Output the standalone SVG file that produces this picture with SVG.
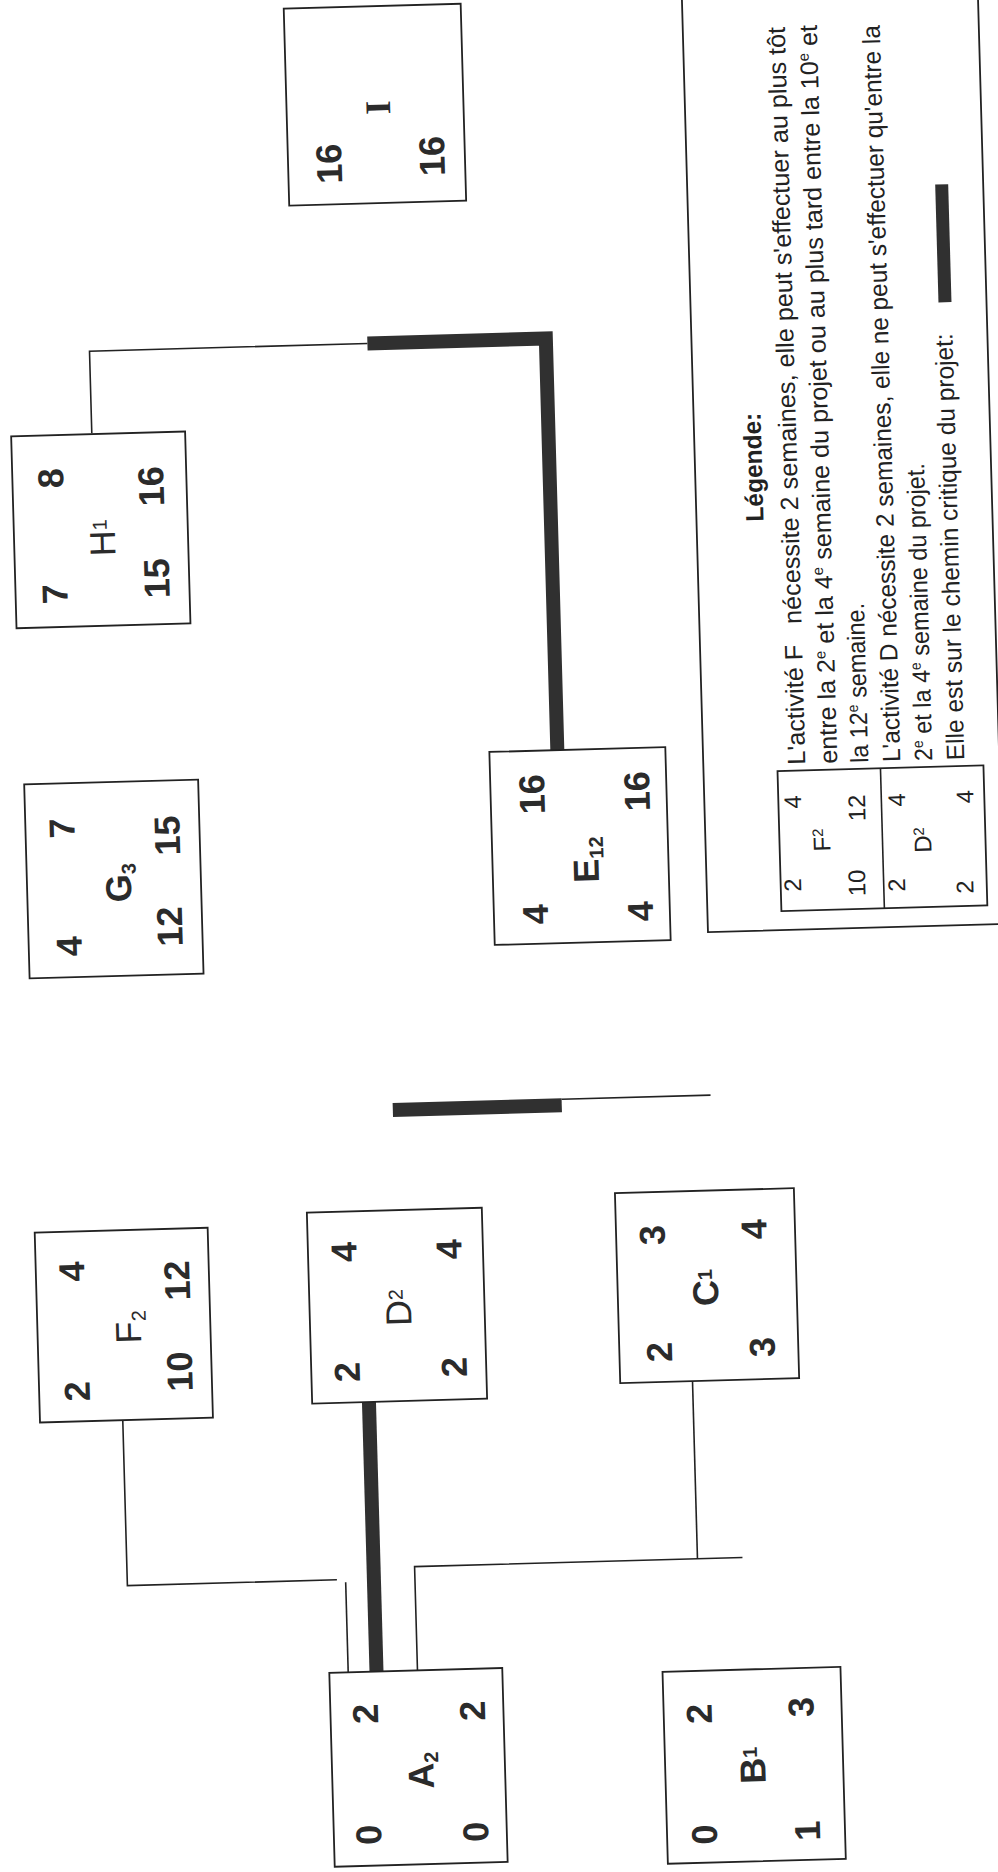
<svg xmlns="http://www.w3.org/2000/svg" width="998" height="1872" viewBox="0 0 998 1872">
<style>
.bx{fill:none;stroke:#222;stroke-width:1.8}
.th{fill:none;stroke:#303030;stroke-width:14;stroke-linejoin:miter;stroke-linecap:butt}
.tn{fill:none;stroke:#222;stroke-width:1.6}
.n{font-family:"Liberation Sans",Arial,sans-serif;font-weight:bold;font-size:36px;fill:#2b2b2b;text-anchor:middle}
.nl{font-weight:normal}
.s{font-size:20px}
.lg{font-family:"Liberation Sans",Arial,sans-serif;font-size:25px;fill:#222}
.lgb{font-weight:bold}
.tb{font-family:"Liberation Sans",Arial,sans-serif;font-size:24px;fill:#222;text-anchor:middle}
.e{font-size:15px}
.ser{font-family:"Liberation Serif","Times New Roman",serif}
</style>
<rect width="998" height="1872" fill="#ffffff"/>
<g transform="rotate(-1.6 499 936)">
 <g id="connectors">
  <path class="tn" d="M106,422 V340 H384"/>
  <path class="th" d="M384,340 H562.5 V752"/>
  <path class="th" d="M388,1107 H557"/>
  <path class="tn" d="M557,1101 H706"/>
  <path class="tn" d="M109.4,1409.5 V1575 H319"/>
  <path class="tn" d="M327.7,1577.7 V1667.8"/>
  <path class="th" d="M356,1398.2 V1667.8"/>
  <path class="tn" d="M397,1667.8 V1564 H725"/>
  <path class="tn" d="M680,1386.3 V1564"/>
 </g>
 <g id="node-I" transform="translate(398.2,101.5)">
  <rect class="bx" x="-88.5" y="-98.5" width="177" height="197"/>
  <g transform="rotate(-90)">
   <text class="n" x="-58" y="-35">16</text>
   <text class="n" x="-53" y="68">16</text>
   <text class="n ser" x="-3" y="15">I</text>
  </g>
 </g>
 <g id="node-H" transform="translate(112.3,518.9)">
  <rect class="bx" x="-87" y="-96" width="174" height="192"/>
  <g transform="rotate(-90)">
   <text class="n" x="-63" y="-35">7</text>
   <text class="n" x="53" y="-36">8</text>
   <text class="n" x="-50" y="67">15</text>
   <text class="n" x="42" y="64">16</text>
   <text class="n nl" x="-8" y="14">H<tspan class="s" dy="-8">1</tspan></text>
  </g>
 </g>
 <g id="node-G" transform="translate(115.6,868.3)">
  <rect class="bx" x="-87" y="-97" width="174" height="194"/>
  <g transform="rotate(-90)">
   <text class="n" x="-66" y="-34">4</text>
   <text class="n" x="52" y="-38">7</text>
   <text class="n" x="-49" y="67">12</text>
   <text class="n" x="42" y="67">15</text>
   <text class="n" x="-4" y="17">G<tspan class="s" dy="5">3</tspan></text>
  </g>
 </g>
 <g id="node-E" transform="translate(582.5,848.3)">
  <rect class="bx" x="-88" y="-96.5" width="176" height="193"/>
  <g transform="rotate(-90)">
   <text class="n" x="-67" y="-34">4</text>
   <text class="n" x="53" y="-34">16</text>
   <text class="n" x="-67" y="71">4</text>
   <text class="n" x="53" y="71">16</text>
   <text class="n" x="-14" y="18">E<tspan class="s" dy="5">12</tspan></text>
  </g>
 </g>
 <g id="node-F" transform="translate(113.1,1314.5)">
  <rect class="bx" x="-86.5" y="-95" width="173" height="190"/>
  <g transform="rotate(-90)">
   <text class="n" x="-65" y="-36">2</text>
   <text class="n" x="55" y="-38">4</text>
   <text class="n" x="-48" y="67">10</text>
   <text class="n" x="43" y="67">12</text>
   <text class="n nl" x="-2" y="17">F<tspan class="s" dy="5">2</tspan></text>
  </g>
 </g>
 <g id="node-D" transform="translate(386.7,1302.7)">
  <rect class="bx" x="-87.5" y="-95.5" width="175" height="191"/>
  <g transform="rotate(-90)">
   <text class="n" x="-65" y="-39">2</text>
   <text class="n" x="55" y="-39">4</text>
   <text class="n" x="-63" y="68">2</text>
   <text class="n" x="55" y="66">4</text>
   <text class="n nl" x="-2" y="14">D<tspan class="s" dy="-8">2</tspan></text>
  </g>
 </g>
 <g id="node-C" transform="translate(697.2,1291.3)">
  <rect class="bx" x="-89.5" y="-95" width="179" height="190"/>
  <g transform="rotate(-90)">
   <text class="n" x="-65" y="-37">2</text>
   <text class="n" x="52" y="-41">3</text>
   <text class="n" x="-63" y="66">3</text>
   <text class="n" x="55" y="61">4</text>
   <text class="n" x="-2" y="11">C<tspan class="s" dy="-6">1</tspan></text>
  </g>
 </g>
 <g id="node-A" transform="translate(395.3,1764.8)">
  <rect class="bx" x="-86.5" y="-97" width="173" height="194"/>
  <g transform="rotate(-90)">
   <text class="n" x="-66" y="-39">0</text>
   <text class="n" x="55" y="-39">2</text>
   <text class="n" x="-66" y="68">0</text>
   <text class="n" x="55" y="68">2</text>
   <text class="n" x="-3" y="15">A<tspan class="s" dy="5">2</tspan></text>
  </g>
 </g>
 <g id="node-B" transform="translate(730.9,1772.1)">
  <rect class="bx" x="-89" y="-96" width="178" height="192"/>
  <g transform="rotate(-90)">
   <text class="n" x="-68" y="-39">0</text>
   <text class="n" x="53" y="-41">2</text>
   <text class="n" x="-67" y="64">1</text>
   <text class="n" x="57" y="61">3</text>
   <text class="n" x="0" y="11">B<tspan class="s" dy="-8">1</tspan></text>
  </g>
 </g>
 <g id="legend">
  <rect class="bx" x="708" y="-40" width="296" height="978"/>
  <text class="lg lgb" transform="translate(775,529) rotate(-90)" textLength="109" lengthAdjust="spacingAndGlyphs">Légende:</text>
  <text class="lg" transform="translate(810,773) rotate(-90)" textLength="738" lengthAdjust="spacingAndGlyphs">L'activité F&#160;&#160;&#160;nécessite 2 semaines, elle peut s'effectuer au plus tôt</text>
  <text class="lg" transform="translate(842,773) rotate(-90)" textLength="739" lengthAdjust="spacingAndGlyphs">entre la 2<tspan class="e" dy="-9">e</tspan><tspan dy="9"> et la 4</tspan><tspan class="e" dy="-9">e</tspan><tspan dy="9"> semaine du projet ou au plus tard entre la 10</tspan><tspan class="e" dy="-9">e</tspan><tspan dy="9"> et</tspan></text>
  <text class="lg" transform="translate(873,773) rotate(-90)" textLength="160" lengthAdjust="spacingAndGlyphs">la 12<tspan class="e" dy="-9">e</tspan><tspan dy="9"> semaine.</tspan></text>
  <text class="lg" transform="translate(905,773) rotate(-90)" textLength="737" lengthAdjust="spacingAndGlyphs">L'activité D nécessite 2 semaines, elle ne peut s'effectuer qu'entre la</text>
  <text class="lg" transform="translate(937,773) rotate(-90)" textLength="298" lengthAdjust="spacingAndGlyphs">2<tspan class="e" dy="-9">e</tspan><tspan dy="9"> et la 4</tspan><tspan class="e" dy="-9">e</tspan><tspan dy="9"> semaine du projet.</tspan></text>
  <text class="lg" transform="translate(969,773) rotate(-90)" textLength="427" lengthAdjust="spacingAndGlyphs">Elle est sur le chemin critique du projet:</text>
  <rect x="956" y="197" width="13" height="118" fill="#303030"/>
  <rect class="bx" x="782" y="779" width="206" height="140"/>
  <line class="tn" x1="885" y1="779" x2="885" y2="919"/>
  <text class="tb" transform="translate(794.4,893.2) rotate(-90)" y="8">2</text>
  <text class="tb" transform="translate(796.7,810.2) rotate(-90)" y="8">4</text>
  <text class="tb" transform="translate(824.7,849) rotate(-90)" y="8">F<tspan class="e" dy="-7">2</tspan></text>
  <text class="tb" transform="translate(858.5,893) rotate(-90)" y="8">10</text>
  <text class="tb" transform="translate(860.6,818) rotate(-90)" y="8">12</text>
  <text class="tb" transform="translate(898.4,896.1) rotate(-90)" y="8">2</text>
  <text class="tb" transform="translate(900.8,811.1) rotate(-90)" y="8">4</text>
  <text class="tb" transform="translate(925.7,851.8) rotate(-90)" y="8">D<tspan class="e" dy="-7">2</tspan></text>
  <text class="tb" transform="translate(966.4,900) rotate(-90)" y="8">2</text>
  <text class="tb" transform="translate(968.9,810) rotate(-90)" y="8">4</text>
 </g>
</g>
</svg>
